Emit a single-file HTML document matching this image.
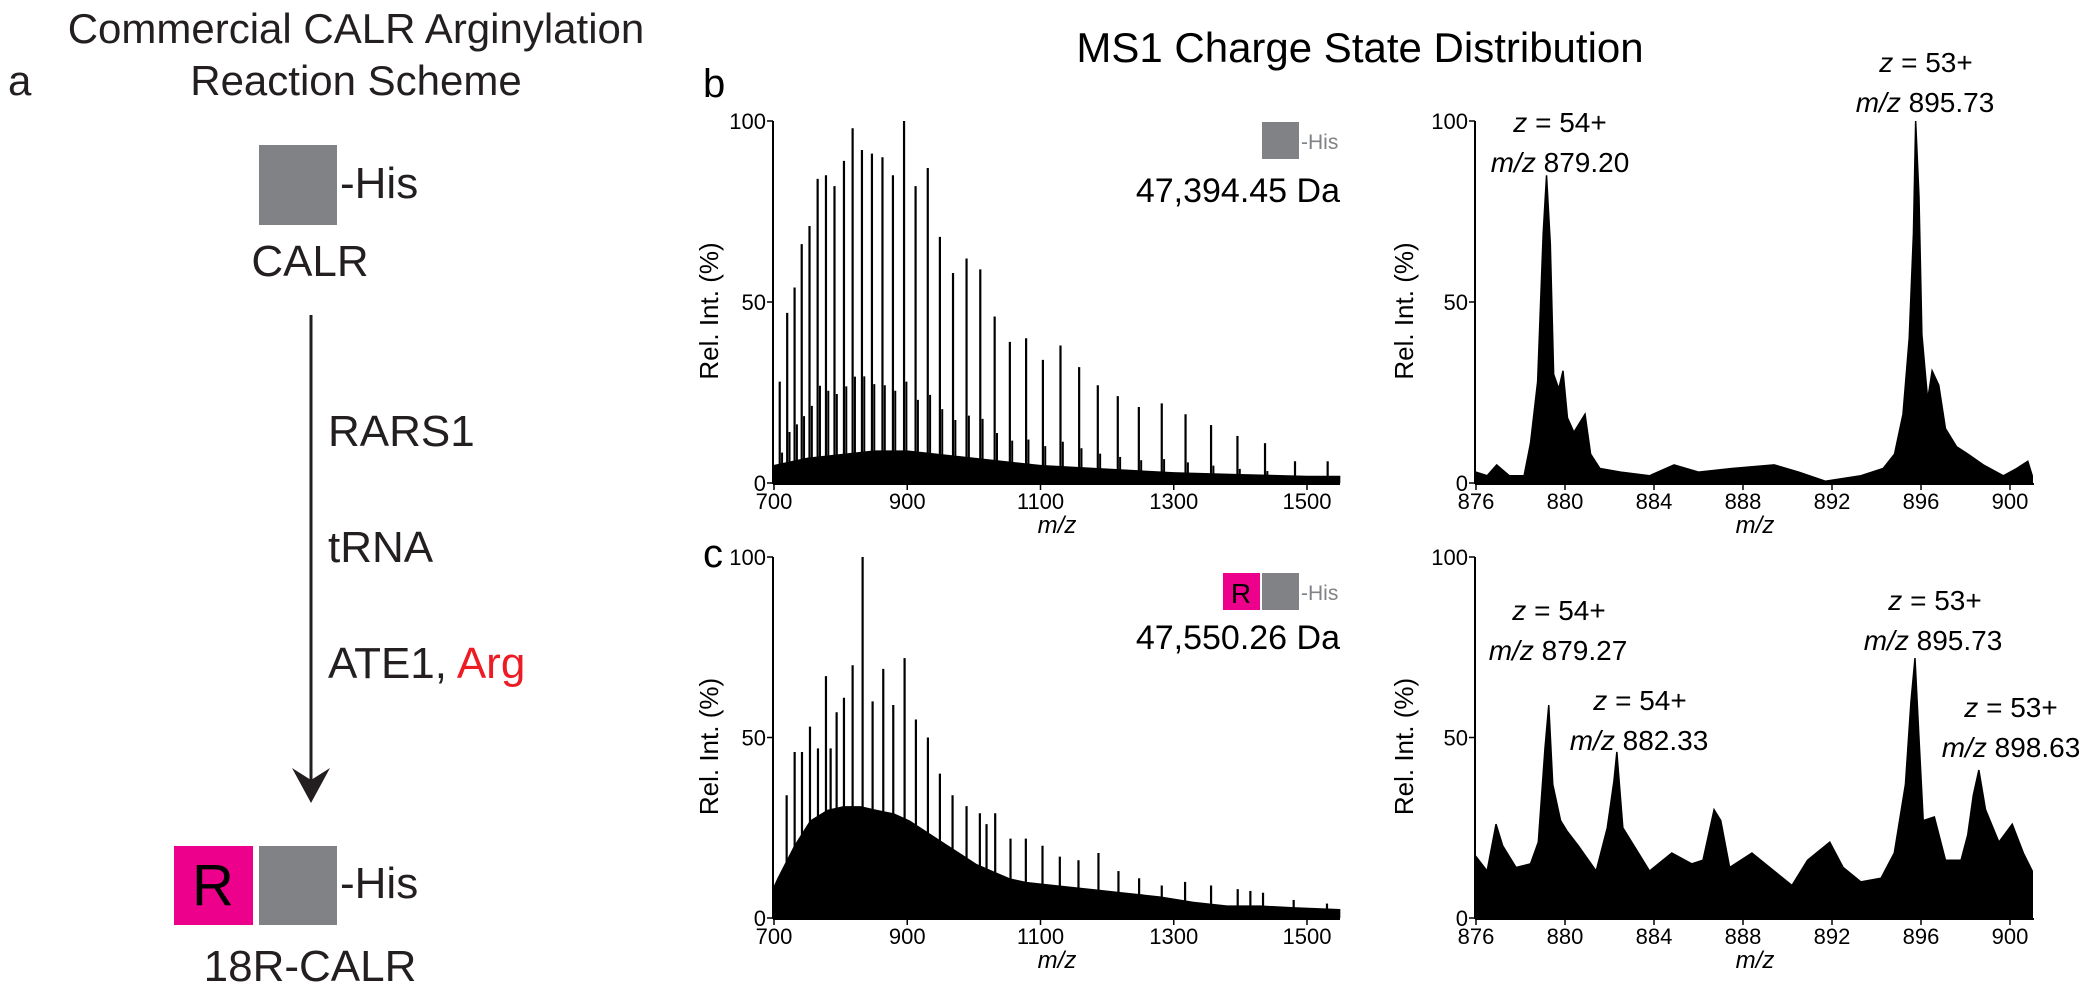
<!DOCTYPE html>
<html><head><meta charset="utf-8"><style>
html,body{margin:0;padding:0;background:#fff;}
svg{display:block;font-family:"Liberation Sans",Arial,sans-serif;}
</style></head><body>
<svg id="fig" width="2100" height="985" viewBox="0 0 2100 985" xmlns="http://www.w3.org/2000/svg">
<g fill="#231f20">
<text x="356" y="43" font-size="42" text-anchor="middle">Commercial CALR Arginylation</text>
<text x="356" y="95" font-size="42" text-anchor="middle">Reaction Scheme</text>
<text x="8" y="95" font-size="42">a</text>
<rect x="259" y="145" width="78" height="80" fill="#808285"/>
<text x="340" y="198" font-size="44">-His</text>
<text x="310" y="276" font-size="44" text-anchor="middle">CALR</text>
<line x1="311" y1="315" x2="311" y2="785" stroke="#231f20" stroke-width="3"/>
<polygon points="292,768 311,780 330,768 311,803" fill="#231f20"/>
<text x="328" y="446" font-size="44">RARS1</text>
<text x="328" y="562" font-size="44">tRNA</text>
<text x="328" y="678" font-size="44">ATE1, <tspan fill="#ed1c24">Arg</tspan></text>
<rect x="174" y="846" width="79" height="79" fill="#ec008c"/>
<text x="213" y="905" font-size="58" text-anchor="middle" fill="#000">R</text>
<rect x="259" y="846" width="78" height="79" fill="#808285"/>
<text x="340" y="898" font-size="44">-His</text>
<text x="310" y="981" font-size="44" text-anchor="middle">18R-CALR</text>
</g>
<text x="1360" y="62" font-size="42" text-anchor="middle">MS1 Charge State Distribution</text>
<text x="703" y="97" font-size="40">b</text>
<text x="703" y="567" font-size="40">c</text>
<g>
<rect x="1262" y="122" width="37" height="37" fill="#808285"/>
<text x="1301" y="149" font-size="21" fill="#808285">-His</text>
<text x="1340" y="202" font-size="34" text-anchor="end">47,394.45 Da</text>
</g>
<g>
<rect x="1223" y="573" width="37" height="37" fill="#ec008c"/>
<text x="1241" y="603" font-size="28" text-anchor="middle">R</text>
<rect x="1262" y="573" width="37" height="37" fill="#808285"/>
<text x="1301" y="600" font-size="21" fill="#808285">-His</text>
<text x="1340" y="649" font-size="34" text-anchor="end">47,550.26 Da</text>
</g>
<g id="plots"></g>
</svg>
<script>
// ---- data ----
const bMainMz = [708.6,719.8,730.9,741.6,753.3,765.5,778,790.8,805,818,832,847,862.8,878.5,895.2,912.5,930.8,949,968.7,989,1009.6,1031.2,1054,1078.4,1103.6,1130,1158,1186,1216,1247.6,1282,1317.7,1356,1395.6,1437,1482,1531];
const bMainInt = [28,47,54,66,71,84,85,82,89,98,92,91,90,85,100,82,87,68,58,62,59,46,39,40,34,38,32,27,24,21,22,19,16,13,11,6,6];
const bBaseMz = [700,750,800,850,900,950,1000,1100,1200,1300,1400,1500,1550];
const bBaseInt = [5,7,8,9,9,8,7,5,4,3,2.5,2,2];
const bSatRatio = [0.3,0.3,0.3,0.28,0.3,0.32,0.3,0.3,0.3,0.3,0.32,0.3,0.3,0.3,0.28,0.28,0.28,0.3,0.3,0.3,0.3,0.3,0.3,0.3,0.3,0.3,0.3,0.3,0.3,0.3,0.3,0.3,0.3,0.3,0.3,0.3,0.3];

const cMainMz = [719,731,742,754,766,778,785,794,805,818,833,848,864,879,896,913,931,949,968,989,1009,1019,1032,1055,1078,1103,1129,1157,1187,1217,1248,1282,1317,1356,1396,1415,1434,1480,1530];
const cMainInt = [34,46,46,53,47,67,47,57,61,70,100,60,69,59,72,55,50,40,34,31,29,26,29,22,22,20,17,16,18,13,11,9,10,9,8,7.5,7,5,4];
const cBaseMz = [700,705,730,754,780,804,830,854,880,904,929,954,979,1004,1029,1054,1079,1129,1180,1230,1280,1330,1380,1430,1480,1550];
const cBaseInt = [9,11,20,27,30,31,31,30,29,27,24,21,18,15,13,11,10,9,8,7,6,4.5,3.5,3.5,3,2.5];

const rbMz = [876,876.5,876.93,877.5,878.16,878.45,878.77,879.02,879.17,879.34,879.49,879.72,879.91,880.11,880.4,880.9,881.15,881.57,882.5,883.8,884.9,886,887.5,889.4,890.5,891.7,893.3,894.3,894.81,895.19,895.47,895.66,895.76,895.91,896.04,896.3,896.5,896.8,897.1,897.6,898.1,898.8,899.7,900.3,900.8,901];
const rbInt = [3,2,5,2,2,11,28,69,85,66,30,26,31,18,14,19,8,4,3,2,5,3,4,5,3,0.5,2,4,8,19,40,69,100,79,41,23,31,27,15,10,8,5,2,4,6,2];

const rcMz = [876,876.5,876.9,877.2,877.8,878.45,878.8,879.1,879.27,879.45,879.8,880.1,880.6,881.4,881.9,882.2,882.33,882.6,883.1,883.8,884.8,885.7,886.2,886.7,887,887.4,888.4,889.4,890.2,890.9,891.9,892.5,893.3,894.2,894.8,895.3,895.55,895.73,895.9,896.1,896.6,897.1,897.8,898.1,898.35,898.6,898.9,899.5,900.1,900.6,901];
const rcInt = [17,13,26,20,14,15,21,47,59,37,27,24,20,13,25,38,46,25,20,13,18,15,16,30,27,14,18,13,9,16,21,14,10,11,18,37,60,72,51,27,28,16,16,23,34,41,30,21,26,18,13];

const leftTicks = [700,900,1100,1300,1500];
const rightTicks = [876,880,884,888,892,896,900];
const yTicks = [0,50,100];

// ---- layout ----
const NS = "http://www.w3.org/2000/svg";
const root = document.getElementById('plots');
function mk(tag, attrs, parent){ const e=document.createElementNS(NS,tag); for(const k in attrs) e.setAttribute(k,attrs[k]); (parent||root).appendChild(e); return e; }

function makeAxes(cfg){
  const g = mk('g',{});
  
  
  const xs = v => cfg.x0 + (v - cfg.xmin) * (cfg.x1 - cfg.x0) / (cfg.xmax - cfg.xmin);
  const ys = v => cfg.y0 - v * (cfg.y0 - cfg.y100) / 100;
  return {g, xs, ys, cfg};
}
function drawFrame(ax, xticks){
  const {g,xs,ys,cfg} = ax;
  const yl = mk('line',{x1:cfg.x0-1,y1:cfg.y100,x2:cfg.x0-1,y2:cfg.y0+1,stroke:'#000','stroke-width':2},g);
  
  
  const xl = mk('line',{x1:cfg.x0-1,y1:cfg.y0+1,x2:cfg.x1end,y2:cfg.y0+1,stroke:'#000','stroke-width':2},g);
  
  
  yTicks.forEach(t=>{
    mk('line',{x1:cfg.x0-7,x2:cfg.x0-1,y1:ys(t),y2:ys(t),stroke:'#000','stroke-width':1.5},g);
    const tx = mk('text',{x:cfg.x0-8,y:ys(t)+8,'font-size':22,'text-anchor':'end'},g);
    tx.textContent = t;
    
    
  });
  xticks.forEach(t=>{
    mk('line',{x1:xs(t),x2:xs(t),y1:cfg.y0+1,y2:cfg.y0+7,stroke:'#000','stroke-width':1.5},g);
    const tx = mk('text',{x:xs(t),y:cfg.y0+26,'font-size':22,'text-anchor':'middle'},g);
    tx.textContent = t;
    
    
  });
  const xt = mk('text',{x:(cfg.x0+cfg.x1end)/2,y:cfg.y0+50,'font-size':24,'font-style':'italic','text-anchor':'middle'},g);
  xt.textContent='m/z';
  
  
  const yt = mk('text',{x:0,y:0,'font-size':26,'text-anchor':'middle',transform:`translate(${cfg.ylabX},${(cfg.y0+cfg.y100)/2+9}) rotate(-90)`},g);
  yt.textContent='Rel. Int. (%)';
  
  
}
function baseArea(ax, mzArr, intArr, name){
  const {g,xs,ys,cfg}=ax;
  let d = `M${xs(mzArr[0])},${cfg.y0}`;
  mzArr.forEach((m,i)=>{ d += ` L${xs(m)},${ys(intArr[i])}`; });
  d += ` L${xs(mzArr[mzArr.length-1])},${cfg.y0} Z`;
  const p = mk('path',{d, fill:'#000'},g);
  
  
}
function sticks(ax, mzArr, intArr, name, w){
  const {g,xs,ys,cfg}=ax;
  mzArr.forEach((m,i)=>{
    const l = mk('line',{x1:xs(m),x2:xs(m),y1:cfg.y0,y2:ys(intArr[i]),stroke:'#000','stroke-width':w},g);
    
    
  });
}
function profile(ax, mzArr, intArr, name){
  const {g,xs,ys,cfg}=ax;
  let d = `M${xs(mzArr[0])},${cfg.y0}`;
  mzArr.forEach((m,i)=>{ d += ` L${xs(m)},${ys(intArr[i])}`; });
  d += ` L${xs(mzArr[mzArr.length-1])},${cfg.y0} Z`;
  const p = mk('path',{d, fill:'#000', stroke:'#000','stroke-width':1.5,'stroke-linejoin':'miter'},g);
  
  
}
function label(ax, x, y, italicPart, rest, name){
  const t = mk('text',{x, y, 'font-size':28, 'text-anchor':'middle'}, ax.g);
  
  
  const a = mk('tspan',{'font-style':'italic'},t); a.textContent = italicPart;
  const b = mk('tspan',{},t); b.textContent = rest;
}

// Panel b left
const bL = makeAxes({name:'spectrum-b-full',x0:774,x1:1307,xmin:700,xmax:1500,x1end:1340,y0:483,y100:121,ylabX:718});
baseArea(bL, bBaseMz, bBaseInt, 'continuum-b');
sticks(bL, bMainMz.map(m=>m+3.5), bMainInt.map((v,i)=>v*bSatRatio[i]), 'satellite-peak-b', 2);
sticks(bL, bMainMz, bMainInt, 'charge-state-peak-b', 2.2);
drawFrame(bL, leftTicks);

// Panel c left
const cL = makeAxes({name:'spectrum-c-full',x0:774,x1:1307,xmin:700,xmax:1500,x1end:1340,y0:918,y100:557,ylabX:718});
baseArea(cL, cBaseMz, cBaseInt, 'continuum-c');
sticks(cL, cMainMz, cMainInt, 'charge-state-peak-c', 2.2);
drawFrame(cL, leftTicks);

// Panel b right
const bR = makeAxes({name:'spectrum-b-zoom',x0:1476,x1:2010,xmin:876,xmax:900,x1end:2034,y0:483,y100:121,ylabX:1413});
profile(bR, rbMz, rbInt, 'profile-b-zoom');
drawFrame(bR, rightTicks);
label(bR, 1560, 132, 'z', '  = 54+', 'peak-label-b-54-z');
label(bR, 1560, 172, 'm/z', ' 879.20', 'peak-label-b-54-mz');
label(bR, 1926, 72, 'z', '  = 53+', 'peak-label-b-53-z');
label(bR, 1925, 112, 'm/z', ' 895.73', 'peak-label-b-53-mz');

// Panel c right
const cR = makeAxes({name:'spectrum-c-zoom',x0:1476,x1:2010,xmin:876,xmax:900,x1end:2034,y0:918,y100:557,ylabX:1413});
profile(cR, rcMz, rcInt, 'profile-c-zoom');
drawFrame(cR, rightTicks);
label(cR, 1559, 620, 'z', ' = 54+', 'peak-label-c-54a-z');
label(cR, 1558, 660, 'm/z', ' 879.27', 'peak-label-c-54a-mz');
label(cR, 1640, 710, 'z', ' = 54+', 'peak-label-c-54b-z');
label(cR, 1639, 750, 'm/z', ' 882.33', 'peak-label-c-54b-mz');
label(cR, 1935, 610, 'z', ' = 53+', 'peak-label-c-53a-z');
label(cR, 1933, 650, 'm/z', ' 895.73', 'peak-label-c-53a-mz');
label(cR, 2011, 717, 'z', ' = 53+', 'peak-label-c-53b-z');
label(cR, 2011, 757, 'm/z', ' 898.63', 'peak-label-c-53b-mz');
</script>
</body></html>
